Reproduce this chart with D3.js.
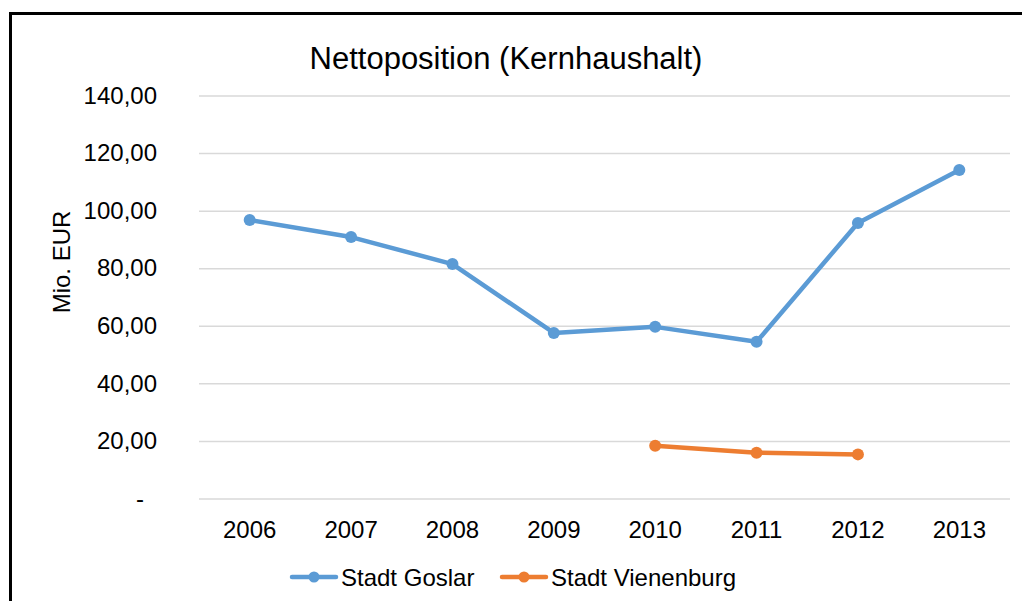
<!DOCTYPE html>
<html lang="de">
<head>
    <meta charset="UTF-8">
    <style>
        html, body { margin:0; height:100%; overflow:hidden; background:#fff; }
        svg { position:absolute; top:0; left:0; }
        text { font-family: "Liberation Sans", Arial, sans-serif; fill:#000; }
    </style>
    <script src="https://d3js.org/d3.v7.min.js"></script>
</head>
<body>
<svg width="1022" height="601"></svg>
<script>
    // chart data
    var years = ["2006", "2007", "2008", "2009", "2010", "2011", "2012", "2013"];
    var goslar = [96.9, 91.0, 81.6, 57.7, 59.8, 54.6, 95.9, 114.3];
    var vienenburg = [null, null, null, null, 18.5, 16.1, 15.5, null];
    var yTicks = [0, 20, 40, 60, 80, 100, 120, 140];

    var series = [
        {name: "Stadt Goslar", color: "#5B9BD5", values: goslar},
        {name: "Stadt Vienenburg", color: "#ED7D31", values: vienenburg}
    ];

    function draw() {
        var svg = d3.select("svg");

        // outer frame (runs off the right and bottom edges)
        svg.append("rect")
            .attr("x", 10.5).attr("y", 13.5)
            .attr("width", 1030).attr("height", 610)
            .attr("fill", "none").attr("stroke", "#000").attr("stroke-width", 3);

        var plotLeft = 199, plotRight = 1010, plotTop = 96, plotBottom = 499;

        var x = d3.scaleBand().domain(years).range([plotLeft, plotRight]);
        var y = d3.scaleLinear().domain([0, 140]).range([plotBottom, plotTop]);

        // gridlines
        svg.append("g").selectAll("line")
            .data(yTicks)
            .enter().append("line")
            .attr("x1", plotLeft).attr("x2", plotRight)
            .attr("y1", function(d) { return y(d); })
            .attr("y2", function(d) { return y(d); })
            .attr("stroke", "#d9d9d9").attr("stroke-width", 1.5);

        // y axis labels
        var fmt = d3.format(".2f");
        var yAxis = svg.append("g")
            .attr("transform", "translate(157,0)")
            .call(d3.axisLeft(y).tickValues(yTicks).tickSize(0).tickPadding(0)
                .tickFormat(function(d) { return d === 0 ? "-" : fmt(d).replace(".", ","); }));
        yAxis.select(".domain").remove();
        yAxis.selectAll("text")
            .attr("font-size", 24)
            .attr("font-family", "Liberation Sans, Arial, sans-serif")
            .attr("fill", "#000")
            .attr("dy", "0.3em")
            .attr("dx", function(d) { return d === 0 ? -13 : 0; });

        // x axis labels
        var xAxis = svg.append("g")
            .attr("transform", "translate(0," + plotBottom + ")")
            .call(d3.axisBottom(x).tickSize(0));
        xAxis.select(".domain").remove();
        xAxis.selectAll("text")
            .attr("y", 39).attr("dy", 0)
            .attr("font-size", 24)
            .attr("font-family", "Liberation Sans, Arial, sans-serif")
            .attr("fill", "#000");

        // lines and markers
        var line = d3.line()
            .defined(function(d) { return d.v !== null; })
            .x(function(d) { return x(d.year) + x.bandwidth() / 2; })
            .y(function(d) { return y(d.v); });

        series.forEach(function(s) {
            var pts = years.map(function(yr, i) { return {year: yr, v: s.values[i]}; });
            svg.append("path")
                .datum(pts)
                .attr("d", line)
                .attr("fill", "none")
                .attr("stroke", s.color)
                .attr("stroke-width", 4.5)
                .attr("stroke-linejoin", "round");
            svg.append("g").selectAll("circle")
                .data(pts.filter(function(d) { return d.v !== null; }))
                .enter().append("circle")
                .attr("cx", function(d) { return x(d.year) + x.bandwidth() / 2; })
                .attr("cy", function(d) { return y(d.v); })
                .attr("r", 6)
                .attr("fill", s.color);
        });

        // title
        svg.append("text")
            .attr("x", 506).attr("y", 69)
            .attr("text-anchor", "middle")
            .attr("font-size", 31)
            .text("Nettoposition (Kernhaushalt)");

        // y axis title
        svg.append("text")
            .attr("transform", "translate(70,262) rotate(-90)")
            .attr("text-anchor", "middle")
            .attr("font-size", 24)
            .text("Mio. EUR");

        // legend
        var legendX = [292, 502];
        series.forEach(function(s, i) {
            var g = svg.append("g").attr("transform", "translate(" + legendX[i] + ",577)");
            g.append("line")
                .attr("x1", 0).attr("x2", 44)
                .attr("stroke", s.color).attr("stroke-width", 4.5).attr("stroke-linecap", "round");
            g.append("circle").attr("cx", 22).attr("r", 5.5).attr("fill", s.color);
            g.append("text")
                .attr("x", 49).attr("y", 9)
                .attr("font-size", 24)
                .text(s.name);
        });
    }

    draw();
</script>
</body>
</html>
